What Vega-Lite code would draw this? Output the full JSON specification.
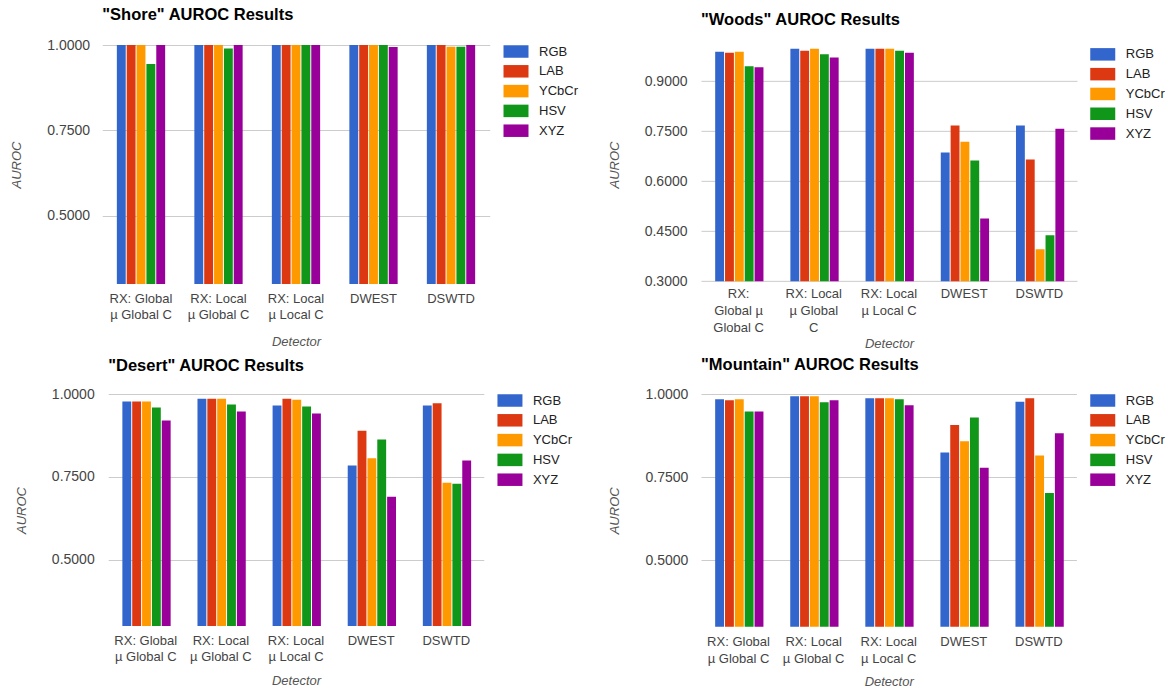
{
  "$schema": "https://vega.github.io/schema/vega-lite/v6.json",
  "padding": {"left": 10, "top": 7, "right": 5, "bottom": 5},
  "background": "white",
  "config": {
    "font": "Liberation Sans",
    "view": {"stroke": null},
    "axis": {
      "labelFont": "Liberation Sans",
      "labelFontSize": 13,
      "labelColor": "#444444",
      "titleFont": "Liberation Sans",
      "titleFontSize": 13,
      "titleFontStyle": "italic",
      "titleFontWeight": "normal",
      "titleColor": "#555555",
      "domain": false,
      "ticks": false,
      "gridColor": "#cccccc"
    },
    "axisX": {"grid": false, "labelAngle": 0, "labelPadding": 8, "labelLineHeight": 16.7, "labelLimit": 0},
    "axisY": {"grid": true, "labelFontSize": 14, "labelPadding": 13, "titlePadding": 23, "format": ".4f"},
    "legend": {
      "symbolType": "M-2,-1H2V1H-2Z",
      "symbolSize": 156.25,
      "symbolOffset": 6.25,
      "symbolStrokeWidth": 0,
      "labelFont": "Liberation Sans",
      "labelFontSize": 13,
      "labelColor": "#222222",
      "rowPadding": 5.8,
      "labelOffset": 16.5,
      "offset": 13,
      "padding": 0
    },
    "title": {
      "anchor": "start",
      "frame": "group",
      "font": "Liberation Sans",
      "fontSize": 16.5,
      "fontWeight": "bold",
      "color": "#000000",
      "baseline": "alphabetic"
    }
  },
  "data": {"values": [
    {"scene": "Shore", "detector": "RX: Global µ Global C", "space": "RGB", "auroc": 1.0},
    {"scene": "Shore", "detector": "RX: Global µ Global C", "space": "LAB", "auroc": 1.0},
    {"scene": "Shore", "detector": "RX: Global µ Global C", "space": "YCbCr", "auroc": 1.0},
    {"scene": "Shore", "detector": "RX: Global µ Global C", "space": "HSV", "auroc": 0.944},
    {"scene": "Shore", "detector": "RX: Global µ Global C", "space": "XYZ", "auroc": 1.0},
    {"scene": "Shore", "detector": "RX: Local µ Global C", "space": "RGB", "auroc": 1.0},
    {"scene": "Shore", "detector": "RX: Local µ Global C", "space": "LAB", "auroc": 1.0},
    {"scene": "Shore", "detector": "RX: Local µ Global C", "space": "YCbCr", "auroc": 1.0},
    {"scene": "Shore", "detector": "RX: Local µ Global C", "space": "HSV", "auroc": 0.990},
    {"scene": "Shore", "detector": "RX: Local µ Global C", "space": "XYZ", "auroc": 1.0},
    {"scene": "Shore", "detector": "RX: Local µ Local C", "space": "RGB", "auroc": 1.0},
    {"scene": "Shore", "detector": "RX: Local µ Local C", "space": "LAB", "auroc": 1.0},
    {"scene": "Shore", "detector": "RX: Local µ Local C", "space": "YCbCr", "auroc": 1.0},
    {"scene": "Shore", "detector": "RX: Local µ Local C", "space": "HSV", "auroc": 1.0},
    {"scene": "Shore", "detector": "RX: Local µ Local C", "space": "XYZ", "auroc": 1.0},
    {"scene": "Shore", "detector": "DWEST", "space": "RGB", "auroc": 1.0},
    {"scene": "Shore", "detector": "DWEST", "space": "LAB", "auroc": 1.0},
    {"scene": "Shore", "detector": "DWEST", "space": "YCbCr", "auroc": 1.0},
    {"scene": "Shore", "detector": "DWEST", "space": "HSV", "auroc": 1.0},
    {"scene": "Shore", "detector": "DWEST", "space": "XYZ", "auroc": 0.994},
    {"scene": "Shore", "detector": "DSWTD", "space": "RGB", "auroc": 1.0},
    {"scene": "Shore", "detector": "DSWTD", "space": "LAB", "auroc": 1.0},
    {"scene": "Shore", "detector": "DSWTD", "space": "YCbCr", "auroc": 0.995},
    {"scene": "Shore", "detector": "DSWTD", "space": "HSV", "auroc": 0.995},
    {"scene": "Shore", "detector": "DSWTD", "space": "XYZ", "auroc": 1.0},

    {"scene": "Woods", "detector": "RX: Global µ Global C", "space": "RGB", "auroc": 0.988},
    {"scene": "Woods", "detector": "RX: Global µ Global C", "space": "LAB", "auroc": 0.985},
    {"scene": "Woods", "detector": "RX: Global µ Global C", "space": "YCbCr", "auroc": 0.988},
    {"scene": "Woods", "detector": "RX: Global µ Global C", "space": "HSV", "auroc": 0.945},
    {"scene": "Woods", "detector": "RX: Global µ Global C", "space": "XYZ", "auroc": 0.942},
    {"scene": "Woods", "detector": "RX: Local µ Global C", "space": "RGB", "auroc": 0.997},
    {"scene": "Woods", "detector": "RX: Local µ Global C", "space": "LAB", "auroc": 0.991},
    {"scene": "Woods", "detector": "RX: Local µ Global C", "space": "YCbCr", "auroc": 0.997},
    {"scene": "Woods", "detector": "RX: Local µ Global C", "space": "HSV", "auroc": 0.981},
    {"scene": "Woods", "detector": "RX: Local µ Global C", "space": "XYZ", "auroc": 0.971},
    {"scene": "Woods", "detector": "RX: Local µ Local C", "space": "RGB", "auroc": 0.997},
    {"scene": "Woods", "detector": "RX: Local µ Local C", "space": "LAB", "auroc": 0.997},
    {"scene": "Woods", "detector": "RX: Local µ Local C", "space": "YCbCr", "auroc": 0.997},
    {"scene": "Woods", "detector": "RX: Local µ Local C", "space": "HSV", "auroc": 0.991},
    {"scene": "Woods", "detector": "RX: Local µ Local C", "space": "XYZ", "auroc": 0.985},
    {"scene": "Woods", "detector": "DWEST", "space": "RGB", "auroc": 0.686},
    {"scene": "Woods", "detector": "DWEST", "space": "LAB", "auroc": 0.767},
    {"scene": "Woods", "detector": "DWEST", "space": "YCbCr", "auroc": 0.718},
    {"scene": "Woods", "detector": "DWEST", "space": "HSV", "auroc": 0.662},
    {"scene": "Woods", "detector": "DWEST", "space": "XYZ", "auroc": 0.488},
    {"scene": "Woods", "detector": "DSWTD", "space": "RGB", "auroc": 0.767},
    {"scene": "Woods", "detector": "DSWTD", "space": "LAB", "auroc": 0.665},
    {"scene": "Woods", "detector": "DSWTD", "space": "YCbCr", "auroc": 0.396},
    {"scene": "Woods", "detector": "DSWTD", "space": "HSV", "auroc": 0.438},
    {"scene": "Woods", "detector": "DSWTD", "space": "XYZ", "auroc": 0.757},

    {"scene": "Desert", "detector": "RX: Global µ Global C", "space": "RGB", "auroc": 0.977},
    {"scene": "Desert", "detector": "RX: Global µ Global C", "space": "LAB", "auroc": 0.977},
    {"scene": "Desert", "detector": "RX: Global µ Global C", "space": "YCbCr", "auroc": 0.977},
    {"scene": "Desert", "detector": "RX: Global µ Global C", "space": "HSV", "auroc": 0.959},
    {"scene": "Desert", "detector": "RX: Global µ Global C", "space": "XYZ", "auroc": 0.920},
    {"scene": "Desert", "detector": "RX: Local µ Global C", "space": "RGB", "auroc": 0.986},
    {"scene": "Desert", "detector": "RX: Local µ Global C", "space": "LAB", "auroc": 0.986},
    {"scene": "Desert", "detector": "RX: Local µ Global C", "space": "YCbCr", "auroc": 0.986},
    {"scene": "Desert", "detector": "RX: Local µ Global C", "space": "HSV", "auroc": 0.968},
    {"scene": "Desert", "detector": "RX: Local µ Global C", "space": "XYZ", "auroc": 0.947},
    {"scene": "Desert", "detector": "RX: Local µ Local C", "space": "RGB", "auroc": 0.965},
    {"scene": "Desert", "detector": "RX: Local µ Local C", "space": "LAB", "auroc": 0.986},
    {"scene": "Desert", "detector": "RX: Local µ Local C", "space": "YCbCr", "auroc": 0.983},
    {"scene": "Desert", "detector": "RX: Local µ Local C", "space": "HSV", "auroc": 0.962},
    {"scene": "Desert", "detector": "RX: Local µ Local C", "space": "XYZ", "auroc": 0.941},
    {"scene": "Desert", "detector": "DWEST", "space": "RGB", "auroc": 0.784},
    {"scene": "Desert", "detector": "DWEST", "space": "LAB", "auroc": 0.889},
    {"scene": "Desert", "detector": "DWEST", "space": "YCbCr", "auroc": 0.806},
    {"scene": "Desert", "detector": "DWEST", "space": "HSV", "auroc": 0.863},
    {"scene": "Desert", "detector": "DWEST", "space": "XYZ", "auroc": 0.690},
    {"scene": "Desert", "detector": "DSWTD", "space": "RGB", "auroc": 0.965},
    {"scene": "Desert", "detector": "DSWTD", "space": "LAB", "auroc": 0.972},
    {"scene": "Desert", "detector": "DSWTD", "space": "YCbCr", "auroc": 0.732},
    {"scene": "Desert", "detector": "DSWTD", "space": "HSV", "auroc": 0.729},
    {"scene": "Desert", "detector": "DSWTD", "space": "XYZ", "auroc": 0.799},

    {"scene": "Mountain", "detector": "RX: Global µ Global C", "space": "RGB", "auroc": 0.984},
    {"scene": "Mountain", "detector": "RX: Global µ Global C", "space": "LAB", "auroc": 0.981},
    {"scene": "Mountain", "detector": "RX: Global µ Global C", "space": "YCbCr", "auroc": 0.984},
    {"scene": "Mountain", "detector": "RX: Global µ Global C", "space": "HSV", "auroc": 0.947},
    {"scene": "Mountain", "detector": "RX: Global µ Global C", "space": "XYZ", "auroc": 0.947},
    {"scene": "Mountain", "detector": "RX: Local µ Global C", "space": "RGB", "auroc": 0.993},
    {"scene": "Mountain", "detector": "RX: Local µ Global C", "space": "LAB", "auroc": 0.993},
    {"scene": "Mountain", "detector": "RX: Local µ Global C", "space": "YCbCr", "auroc": 0.993},
    {"scene": "Mountain", "detector": "RX: Local µ Global C", "space": "HSV", "auroc": 0.975},
    {"scene": "Mountain", "detector": "RX: Local µ Global C", "space": "XYZ", "auroc": 0.981},
    {"scene": "Mountain", "detector": "RX: Local µ Local C", "space": "RGB", "auroc": 0.987},
    {"scene": "Mountain", "detector": "RX: Local µ Local C", "space": "LAB", "auroc": 0.987},
    {"scene": "Mountain", "detector": "RX: Local µ Local C", "space": "YCbCr", "auroc": 0.987},
    {"scene": "Mountain", "detector": "RX: Local µ Local C", "space": "HSV", "auroc": 0.984},
    {"scene": "Mountain", "detector": "RX: Local µ Local C", "space": "XYZ", "auroc": 0.966},
    {"scene": "Mountain", "detector": "DWEST", "space": "RGB", "auroc": 0.824},
    {"scene": "Mountain", "detector": "DWEST", "space": "LAB", "auroc": 0.907},
    {"scene": "Mountain", "detector": "DWEST", "space": "YCbCr", "auroc": 0.858},
    {"scene": "Mountain", "detector": "DWEST", "space": "HSV", "auroc": 0.929},
    {"scene": "Mountain", "detector": "DWEST", "space": "XYZ", "auroc": 0.778},
    {"scene": "Mountain", "detector": "DSWTD", "space": "RGB", "auroc": 0.977},
    {"scene": "Mountain", "detector": "DSWTD", "space": "LAB", "auroc": 0.987},
    {"scene": "Mountain", "detector": "DSWTD", "space": "YCbCr", "auroc": 0.815},
    {"scene": "Mountain", "detector": "DSWTD", "space": "HSV", "auroc": 0.702},
    {"scene": "Mountain", "detector": "DSWTD", "space": "XYZ", "auroc": 0.882}
  ]},
  "columns": 2,
  "align": "each",
  "bounds": "flush",
  "center": true,
  "spacing": {"row": 110, "column": 211},
  "resolve": {"scale": {"color": "independent"}, "legend": {"color": "independent"}},
  "concat": [
    {
      "title": {"text": "\"Shore\" AUROC Results", "offset": 14.3},
      "width": 387.5,
      "height": 239,
      "transform": [{"filter": "datum.scene == 'Shore'"}],
      "mark": {"type": "bar", "clip": true},
      "encoding": {
        "x": {"field": "detector", "type": "nominal", "sort": ["RX: Global µ Global C", "RX: Local µ Global C", "RX: Local µ Local C", "DWEST", "DSWTD"], "scale": {"paddingInner": 0.377, "paddingOuter": 0.1885},
          "axis": {"title": "Detector", "titlePadding": 13.3, "labelExpr": "indexof(datum.label, ' µ') > 0 ? [substring(datum.label, 0, indexof(datum.label, ' µ')), substring(datum.label, indexof(datum.label, ' µ') + 1)] : datum.label"}},
        "xOffset": {"field": "space", "type": "nominal", "sort": ["RGB", "LAB", "YCbCr", "HSV", "XYZ"], "scale": {"paddingInner": 0.1}},
        "y": {"field": "auroc", "type": "quantitative", "scale": {"domain": [0.3, 1.0], "zero": false, "nice": false}, "axis": {"title": "AUROC", "values": [0.5, 0.75, 1.0], "labelPadding": 12.7}},
        "color": {"field": "space", "type": "nominal", "sort": ["RGB", "LAB", "YCbCr", "HSV", "XYZ"], "scale": {"domain": ["RGB", "LAB", "YCbCr", "HSV", "XYZ"], "range": ["#3366cc", "#dc3912", "#ff9900", "#109618", "#990099"]}, "legend": {"title": null}}
      }
    },
    {
      "title": {"text": "\"Woods\" AUROC Results", "offset": 19},
      "width": 376,
      "height": 233.3,
      "transform": [{"filter": "datum.scene == 'Woods'"}],
      "mark": {"type": "bar", "clip": true},
      "encoding": {
        "x": {"field": "detector", "type": "nominal", "sort": ["RX: Global µ Global C", "RX: Local µ Global C", "RX: Local µ Local C", "DWEST", "DSWTD"], "scale": {"paddingInner": 0.377, "paddingOuter": 0.1885},
          "axis": {"title": "Detector", "labelPadding": 6.5, "titlePadding": 3.2, "labelExpr": "datum.label == 'RX: Global µ Global C' ? ['RX:', 'Global µ', 'Global C'] : datum.label == 'RX: Local µ Global C' ? ['RX: Local', 'µ Global', 'C'] : datum.label == 'RX: Local µ Local C' ? ['RX: Local', 'µ Local C'] : datum.label"}},
        "xOffset": {"field": "space", "type": "nominal", "sort": ["RGB", "LAB", "YCbCr", "HSV", "XYZ"], "scale": {"paddingInner": 0.1}},
        "y": {"field": "auroc", "type": "quantitative", "scale": {"domain": [0.3, 1.0], "zero": false, "nice": false}, "axis": {"title": "AUROC", "values": [0.3, 0.45, 0.6, 0.75, 0.9], "labelPadding": 14}},
        "color": {"field": "space", "type": "nominal", "sort": ["RGB", "LAB", "YCbCr", "HSV", "XYZ"], "scale": {"domain": ["RGB", "LAB", "YCbCr", "HSV", "XYZ"], "range": ["#3366cc", "#dc3912", "#ff9900", "#109618", "#990099"]}, "legend": {"title": null}}
      }
    },
    {
      "title": {"text": "\"Desert\" AUROC Results", "offset": 12.6},
      "width": 375.6,
      "height": 232,
      "transform": [{"filter": "datum.scene == 'Desert'"}],
      "mark": {"type": "bar", "clip": true},
      "encoding": {
        "x": {"field": "detector", "type": "nominal", "sort": ["RX: Global µ Global C", "RX: Local µ Global C", "RX: Local µ Local C", "DWEST", "DSWTD"], "scale": {"paddingInner": 0.377, "paddingOuter": 0.1885},
          "axis": {"title": "Detector", "titlePadding": 11, "labelExpr": "indexof(datum.label, ' µ') > 0 ? [substring(datum.label, 0, indexof(datum.label, ' µ')), substring(datum.label, indexof(datum.label, ' µ') + 1)] : datum.label"}},
        "xOffset": {"field": "space", "type": "nominal", "sort": ["RGB", "LAB", "YCbCr", "HSV", "XYZ"], "scale": {"paddingInner": 0.1}},
        "y": {"field": "auroc", "type": "quantitative", "scale": {"domain": [0.3, 1.0], "zero": false, "nice": false}, "axis": {"title": "AUROC", "values": [0.5, 0.75, 1.0], "labelPadding": 14}},
        "color": {"field": "space", "type": "nominal", "sort": ["RGB", "LAB", "YCbCr", "HSV", "XYZ"], "scale": {"domain": ["RGB", "LAB", "YCbCr", "HSV", "XYZ"], "range": ["#3366cc", "#dc3912", "#ff9900", "#109618", "#990099"]}, "legend": {"title": null}}
      }
    },
    {
      "title": {"text": "\"Mountain\" AUROC Results", "offset": 13.3},
      "width": 375.4,
      "height": 232.7,
      "transform": [{"filter": "datum.scene == 'Mountain'"}],
      "mark": {"type": "bar", "clip": true},
      "encoding": {
        "x": {"field": "detector", "type": "nominal", "sort": ["RX: Global µ Global C", "RX: Local µ Global C", "RX: Local µ Local C", "DWEST", "DSWTD"], "scale": {"paddingInner": 0.377, "paddingOuter": 0.1885},
          "axis": {"title": "Detector", "labelPadding": 9, "titlePadding": 10.4, "labelExpr": "indexof(datum.label, ' µ') > 0 ? [substring(datum.label, 0, indexof(datum.label, ' µ')), substring(datum.label, indexof(datum.label, ' µ') + 1)] : datum.label"}},
        "xOffset": {"field": "space", "type": "nominal", "sort": ["RGB", "LAB", "YCbCr", "HSV", "XYZ"], "scale": {"paddingInner": 0.1}},
        "y": {"field": "auroc", "type": "quantitative", "scale": {"domain": [0.3, 1.0], "zero": false, "nice": false}, "axis": {"title": "AUROC", "values": [0.5, 0.75, 1.0], "labelPadding": 13.2}},
        "color": {"field": "space", "type": "nominal", "sort": ["RGB", "LAB", "YCbCr", "HSV", "XYZ"], "scale": {"domain": ["RGB", "LAB", "YCbCr", "HSV", "XYZ"], "range": ["#3366cc", "#dc3912", "#ff9900", "#109618", "#990099"]}, "legend": {"title": null}}
      }
    }
  ]
}
